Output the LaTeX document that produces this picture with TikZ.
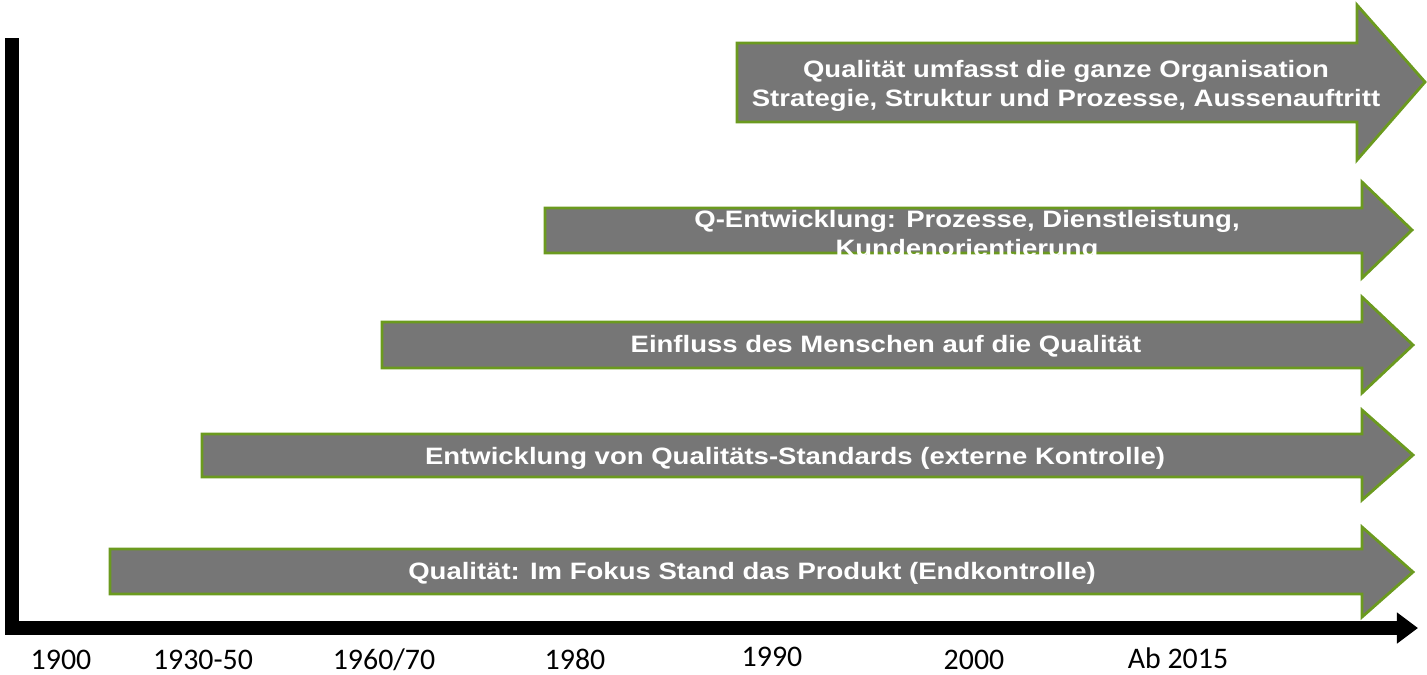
\documentclass[tikz,border=0pt]{standalone}
\usepackage{fontspec}
\usepackage{tikz}
\usetikzlibrary{arrows.meta}
\newfontfamily\pfeilfont[FakeStretch=1.16]{Liberation Sans}
\newfontfamily\jahrfont{Carlito}
\definecolor{pfeilgrau}{HTML}{767676}
\definecolor{pfeilgruen}{HTML}{6B9A1F}

\begin{document}
\begin{tikzpicture}[x=0.02cm,y=-0.02cm]
        \tikzstyle{every node} = [rectangle]
        \tikzstyle{pfeil} = [fill=pfeilgrau, draw=pfeilgruen, line width=1.6pt, line join=miter]
        \tikzstyle{pfeiltext} = [text=white, font=\pfeilfont\fontsize{13.5}{16.5}\selectfont\bfseries, align=center]
        \tikzstyle{jahr} = [font=\jahrfont\fontsize{17}{20}\selectfont, inner sep=0pt, anchor=base]
        \useasboundingbox (0,0) rectangle (1427,674);

        % Achse
        \coordinate (oben) at (12,38);
        \coordinate (ecke) at (12,628);
        \coordinate (ende) at (1418,628);
        \draw[line width=7.5pt, line join=miter, -{Triangle[length=12pt,width=17pt]}] (oben) -- (ecke) -- (ende);

        % Pfeile
        \draw[pfeil] (110,549) -- ++(1252,0) -- ++(0,-22) -- ++(51,45) -- ++(-51,45) -- ++(0,-23) -- ++(-1252,0) -- cycle;
        \draw[pfeil] (202,434) -- ++(1160,0) -- ++(0,-24) -- ++(51,45) -- ++(-51,45) -- ++(0,-23) -- ++(-1160,0) -- cycle;
        \draw[pfeil] (382,322) -- ++(980,0) -- ++(0,-25) -- ++(51,48) -- ++(-51,48) -- ++(0,-25) -- ++(-980,0) -- cycle;
        \draw[pfeil] (545,208) -- ++(817,0) -- ++(0,-26) -- ++(50,48) -- ++(-50,48) -- ++(0,-25) -- ++(-817,0) -- cycle;
        \draw[pfeil] (737,43) -- ++(620,0) -- ++(0,-38) -- ++(68,77) -- ++(-68,78) -- ++(0,-38) -- ++(-620,0) -- cycle;

        \node[pfeiltext] (p1) at (752,573) {Qualität: Im Fokus Stand das Produkt (Endkontrolle)};
        \node[pfeiltext] (p2) at (795,458) {Entwicklung von Qualitäts-Standards (externe Kontrolle)};
        \node[pfeiltext] (p3) at (886,346) {Einfluss des Menschen auf die Qualität};
        \node[pfeiltext] (p4) at (967,236) {Q-Entwicklung: Prozesse, Dienstleistung,\\Kundenorientierung};
        \node[pfeiltext] (p5) at (1066,86) {Qualität umfasst die ganze Organisation\\Strategie, Struktur und Prozesse, Aussenauftritt};

        % Jahre
        \node[jahr] (j1900) at (61,669) {1900};
        \node[jahr] (j1930) at (203,669) {1930-50};
        \node[jahr] (j1960) at (384,669) {1960/70};
        \node[jahr] (j1980) at (575,669) {1980};
        \node[jahr] (j1990) at (772,666) {1990};
        \node[jahr] (j2000) at (974,669) {2000};
        \node[jahr] (j2015) at (1178,668) {Ab 2015};
\end{tikzpicture}
\end{document}
